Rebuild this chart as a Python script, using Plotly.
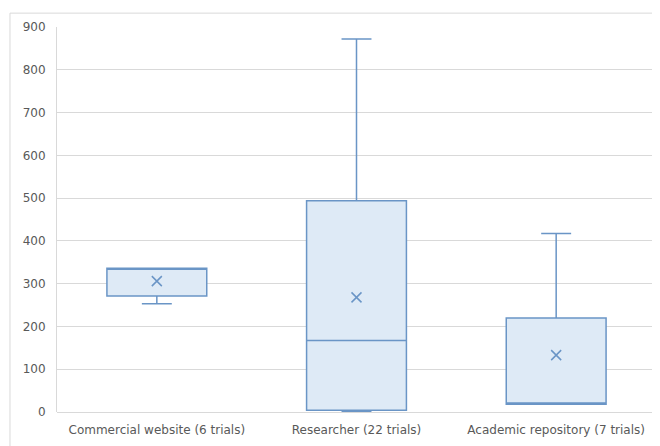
import plotly.graph_objects as go

categories = ["Commercial website (6 trials)", "Researcher (22 trials)", "Academic repository (7 trials)"]
q1_vals = [271, 4, 18]
median_vals = [336, 167, 21]
q3_vals = [336, 494, 220]
lower_vals = [253, 1, 18]
upper_vals = [336, 872, 417]
mean_vals = [306, 268, 133]
y_ticks = [0, 100, 200, 300, 400, 500, 600, 700, 800, 900]

line_col = "#6A95C6"
fill_col = "#DEEAF6"
grid_col = "#D9D9D9"
text_col = "#595959"

fig = go.Figure()
fig.add_trace(go.Box(
    x=categories, q1=q1_vals, median=median_vals, q3=q3_vals,
    lowerfence=lower_vals, upperfence=upper_vals,
    fillcolor=fill_col, line=dict(color=line_col, width=1.5),
    whiskerwidth=0.3, boxpoints=False, hoverinfo="skip",
))
fig.add_trace(go.Scatter(
    x=categories, y=mean_vals, mode="markers",
    marker=dict(symbol="x-thin", size=10, line=dict(color=line_col, width=1.5)),
    hoverinfo="skip",
))

fig.update_layout(
    width=660, height=446,
    margin=dict(l=49, r=12, t=17, b=42),
    paper_bgcolor="white", plot_bgcolor="white",
    showlegend=False, boxgap=0.5, boxgroupgap=0,
    font=dict(family="DejaVu Sans", size=12, color=text_col),
    shapes=[dict(type="rect", xref="paper", yref="paper",
                 x0=-0.0785, x1=1.2, y0=-0.3, y1=1.036,
                 line=dict(color=grid_col, width=1), fillcolor="rgba(0,0,0,0)", layer="below")],
)
fig.update_xaxes(showgrid=False, showline=False, zeroline=False, ticks="",
                 ticklabelstandoff=9, tickfont=dict(size=12, color=text_col))
fig.update_yaxes(range=[0, 900], tickvals=y_ticks, showgrid=True, gridcolor=grid_col,
                 gridwidth=1, zeroline=True, zerolinecolor=grid_col, zerolinewidth=1,
                 showline=True, linecolor=grid_col, linewidth=1, ticks="",
                 ticklabelstandoff=8, tickfont=dict(size=12, color=text_col))

fig.write_html("out.html")
